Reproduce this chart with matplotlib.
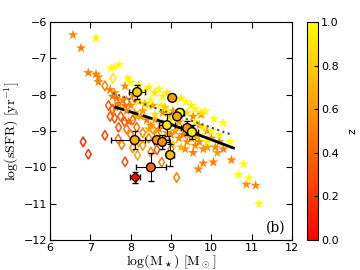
import matplotlib
matplotlib.use("Agg")
import matplotlib.pyplot as plt
import numpy as np

plt.rcParams['mathtext.fontset'] = 'cm'

# stars: log M*, log sSFR, z
star_x = [6.57, 6.77, 7.14, 6.95, 7.14, 7.2, 7.2, 7.51, 7.59, 7.72, 7.86, 7.93, 8.0, 7.49,
          7.6, 7.65, 7.55, 7.7, 7.8, 7.85, 7.62, 7.9, 8.0, 8.1, 8.25, 8.4, 8.3, 8.5,
          8.6, 8.7, 8.8, 8.9, 9.0, 9.1, 9.2, 9.3, 9.4, 9.5, 9.6, 9.7, 9.8, 9.9, 10.1,
          10.3, 9.55, 9.35, 9.68, 9.8, 10.05, 10.5, 10.87, 11.1, 9.2, 9.4, 9.7, 9.9,
          10.2, 8.55, 8.8, 9.05, 9.55, 9.75, 10.0,
          8.2, 8.35, 8.45, 8.6, 8.7, 8.8, 8.9, 9.1, 9.25, 9.37, 9.5, 9.6, 9.75, 9.85,
          10.07, 10.3, 10.47, 10.8, 10.67, 10.93, 11.18, 8.2, 8.4, 8.5, 8.75, 8.9,
          9.2, 9.4, 9.6, 9.8, 10.0, 10.2, 9.3, 9.0, 8.6, 9.7, 9.9, 8.05, 8.15, 8.35,
          7.95, 8.45, 8.65, 8.95, 9.15, 9.45, 9.65, 9.05, 8.85, 9.25, 9.5, 10.15]
star_y = [-6.36, -6.72, -6.45, -7.4, -7.44, -7.52, -7.65, -7.27, -7.25, -7.18, -7.77, -7.55, -7.66, -7.87,
          -7.95, -8.1, -8.05, -8.25, -8.15, -8.3, -8.35, -8.45, -8.3, -8.5, -8.6, -8.7, -8.45, -8.85,
          -8.7, -8.95, -8.8, -9.05, -9.1, -9.0, -9.2, -9.1, -9.3, -9.2, -9.4, -9.3, -9.5, -9.45, -9.45,
          -9.5, -9.6, -9.5, -10.05, -9.89, -9.86, -9.8, -10.47, -10.5, -8.75, -8.85, -8.85, -9.0,
          -9.3, -8.3, -8.5, -8.45, -8.6, -8.55, -9.2,
          -7.75, -7.9, -7.8, -7.95, -7.85, -8.05, -7.95, -8.15, -8.1, -8.2, -8.3, -8.4, -8.5, -8.45,
          -8.67, -8.78, -9.3, -9.91, -10.2, -10.3, -11.0, -8.2, -8.3, -8.15, -8.3, -8.45,
          -8.6, -8.5, -8.75, -8.9, -9.0, -9.1, -8.9, -8.7, -8.55, -9.1, -9.3, -8.0, -8.6, -8.25,
          -8.75, -8.95, -9.2, -8.6, -8.9, -9.05, -9.15, -9.35, -8.35, -9.45, -8.95, -9.6]
star_z = [0.55, 0.5, 0.95, 0.5, 0.5, 0.55, 0.5, 1.0, 0.98, 1.0, 0.55, 0.95, 1.0, 0.5,
          0.6, 0.45, 0.5, 0.5, 0.55, 0.5, 0.45, 0.5, 0.55, 0.6, 0.55, 0.5, 0.6, 0.55,
          0.6, 0.5, 0.6, 0.55, 0.5, 0.6, 0.55, 0.5, 0.55, 0.6, 0.55, 0.5, 0.55, 0.6, 0.55,
          0.5, 0.5, 0.55, 0.5, 0.5, 0.5, 0.55, 0.55, 0.55, 0.6, 0.55, 0.6, 0.55,
          0.5, 0.6, 0.55, 0.6, 0.55, 0.5, 0.6,
          0.95, 1.0, 0.95, 0.9, 1.0, 0.95, 0.9, 1.0, 0.95, 1.0, 0.95, 1.0, 0.9, 1.0,
          1.0, 1.0, 1.0, 1.0, 1.0, 1.0, 1.0, 0.9, 0.95, 1.0, 0.95, 1.0,
          0.95, 0.9, 1.0, 0.95, 1.0, 0.95, 0.9, 1.0, 0.9, 1.0, 0.95, 0.65, 0.7, 0.75,
          0.45, 0.65, 0.7, 0.8, 0.75, 0.7, 0.65, 0.85, 0.8, 0.7, 0.75, 0.6]

# open diamonds
dia_x = [7.36, 7.56, 7.49, 7.55, 7.6, 7.75, 7.85, 7.7, 7.9, 8.05, 8.15, 8.0, 8.3, 8.45, 8.55,
         8.65, 6.82, 6.95, 7.36, 7.69, 7.78, 7.86, 8.17, 8.05, 8.5, 8.77, 9.14, 8.65, 8.3,
         8.8, 9.0, 7.9, 8.1, 7.45, 8.2, 8.9]
dia_y = [-7.76, -7.55, -8.6, -8.4, -8.65, -8.6, -8.75, -8.9, -8.95, -8.7, -8.9, -9.1, -9.05, -9.2, -8.95,
         -9.1, -9.3, -9.64, -9.12, -9.22, -9.38, -9.85, -9.67, -9.47, -9.58, -9.86, -10.28, -9.52, -9.4,
         -9.35, -9.5, -8.2, -8.1, -8.3, -9.3, -9.15]
dia_z = [0.5, 0.9, 0.3, 0.4, 0.35, 0.35, 0.3, 0.35, 0.45, 0.4, 0.45, 0.5, 0.55, 0.5, 0.6,
         0.55, 0.15, 0.2, 0.25, 0.45, 0.5, 0.3, 0.65, 0.55, 0.55, 0.5, 0.5, 0.35, 0.6,
         0.6, 0.55, 0.45, 0.5, 0.35, 0.55, 0.6]

# circles with error bars
circ_x = [8.16, 9.03, 9.22, 9.15, 8.9, 9.4, 9.52, 8.1, 8.65, 8.78, 8.98, 8.5]
circ_y = [-7.93, -8.09, -8.5, -8.6, -8.84, -8.92, -9.03, -9.25, -9.25, -9.3, -9.66, -10.0]
circ_z = [0.8, 0.6, 0.95, 0.65, 0.9, 0.6, 0.95, 0.7, 0.6, 0.55, 0.75, 0.4]
circ_xerr = [0.2, 0.0, 0.1, 0.0, 0.2, 0.15, 0.15, 0.6, 0.3, 0.2, 0.1, 0.38]
circ_yerr = [0.2, 0.0, 0.1, 0.0, 0.3, 0.2, 0.2, 0.25, 0.0, 0.2, 0.3, 0.38]

# red diamond
rd_x, rd_y, rd_z = [8.1], [-10.27], [0.0]
rd_xerr, rd_yerr = [0.12], [0.15]

# relations
dot_x, dot_y = [7.56, 10.52], [-7.96, -9.11]
dash_x, dash_y = [7.6, 9.0], [-8.34, -8.82]
sol_x, sol_y = [9.0, 10.55], [-8.82, -9.47]

cmap = plt.get_cmap('autumn')
norm = plt.Normalize(0, 1)

fig = plt.figure(figsize=(3.6, 2.7), dpi=100)
ax = fig.add_axes([0.139, 0.111, 0.672, 0.808])
cax = fig.add_axes([0.853, 0.111, 0.031, 0.808])

sc = ax.scatter(star_x, star_y, c=star_z, cmap=cmap, norm=norm, marker='*', s=60,
                edgecolors='none', zorder=2)
ax.scatter(dia_x, dia_y, facecolors='none', edgecolors=cmap(norm(dia_z)), marker='d',
           s=24, linewidths=1.1, zorder=2)

ax.plot(dot_x, dot_y, color='0.3', ls=':', lw=1.5, zorder=3)
ax.plot(dash_x, dash_y, color='k', ls='--', lw=2, zorder=3)
ax.plot(sol_x, sol_y, color='k', ls='-', lw=2, zorder=3)

ax.errorbar(circ_x, circ_y, xerr=circ_xerr, yerr=circ_yerr, fmt='none', ecolor='k',
            elinewidth=0.8, capsize=2, zorder=4)
ax.scatter(circ_x, circ_y, c=circ_z, cmap=cmap, norm=norm, marker='o', s=40,
           edgecolors='k', linewidths=1.0, zorder=5)
ax.errorbar(rd_x, rd_y, xerr=rd_xerr, yerr=rd_yerr, fmt='none', ecolor='k',
            elinewidth=0.8, capsize=2, zorder=4)
ax.scatter(rd_x, rd_y, c=rd_z, cmap=cmap, norm=norm, marker='D', s=26,
           edgecolors='k', linewidths=0.8, zorder=5)

ax.set_xlim(6, 12)
ax.set_ylim(-12, -6)
ax.tick_params(direction='in', top=True, right=True, labelsize=8, length=4, pad=2)
ax.set_xlabel(r'$\log(\mathrm{M}_\star)\ [\mathrm{M}_\odot]$', fontsize=10, labelpad=0)
ax.set_ylabel(r'$\log(\mathrm{sSFR})\ [\mathrm{yr}^{-1}]$', fontsize=10, labelpad=1)
ax.text(11.85, -11.65, '(b)', fontsize=10, family='DejaVu Serif', ha='right', va='center')

cb = fig.colorbar(sc, cax=cax, ticks=[0, 0.2, 0.4, 0.6, 0.8, 1.0])
cb.ax.tick_params(labelsize=8, direction='in', length=3, pad=2)
cb.outline.set_linewidth(0.8)
cb.set_label('z', fontsize=8, labelpad=6)

fig.savefig('out.png', dpi=100)
